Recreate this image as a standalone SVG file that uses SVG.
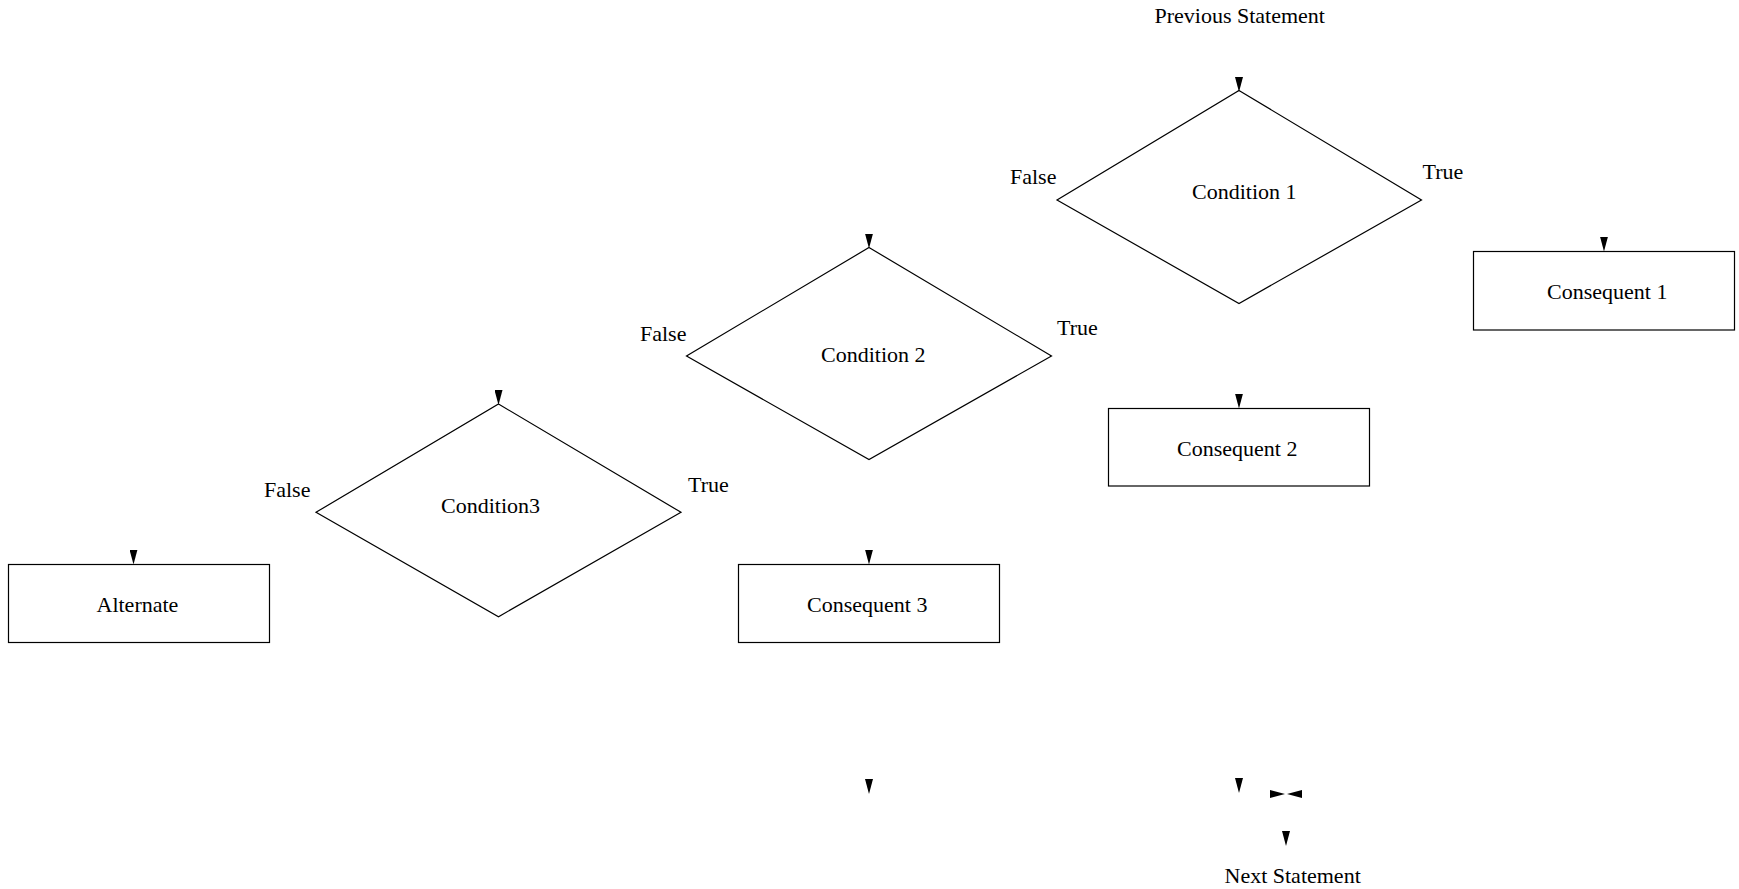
<svg xmlns="http://www.w3.org/2000/svg" width="1739" height="889" viewBox="0 0 1739 889">
<style>
  .shape { fill: #ffffff; stroke: #000000; stroke-width: 1.2; }
  text { font-family: "Liberation Serif", "Times New Roman", serif; font-size: 22px; fill: #000000; }
  .edge { fill: none; stroke: none; marker-end: url(#arrow); }
</style>
<defs>
  <marker id="arrow" viewBox="0 0 15 8" refX="15" refY="4" markerWidth="15" markerHeight="8" markerUnits="userSpaceOnUse" orient="auto">
    <path d="M0,0 L15,4 L0,8 z" fill="#000000"/>
  </marker>
</defs>
<rect x="0" y="0" width="1739" height="889" fill="#ffffff"/>

<g id="previous-statement">
  <text x="1154.5" y="23">Previous Statement</text>
</g>

<g id="condition1">
  <polygon class="shape" points="1239,90.5 1421.5,200 1239,303.5 1057,200"/>
  <text x="1192" y="199">Condition 1</text>
</g>
<g id="condition2">
  <polygon class="shape" points="869,247.5 1051.5,356 869,459.5 686.5,356"/>
  <text x="821" y="362">Condition 2</text>
</g>
<g id="condition3">
  <polygon class="shape" points="498.5,404 681,512.3 498.5,616.7 316,512.3"/>
  <text x="441" y="513">Condition3</text>
</g>

<g id="consequent1">
  <rect class="shape" x="1473.5" y="251.5" width="261" height="78.5"/>
  <text x="1547" y="299">Consequent 1</text>
</g>
<g id="consequent2">
  <rect class="shape" x="1108.5" y="408.5" width="261" height="77.5"/>
  <text x="1177" y="456">Consequent 2</text>
</g>
<g id="consequent3">
  <rect class="shape" x="738.5" y="564.5" width="261" height="78"/>
  <text x="807" y="612">Consequent 3</text>
</g>
<g id="alternate">
  <rect class="shape" x="8.5" y="564.5" width="261" height="78"/>
  <text x="96.5" y="612">Alternate</text>
</g>

<g id="next-statement">
  <text x="1224.5" y="883">Next Statement</text>
</g>

<g id="connectors">
  <path class="edge" d="M1239,30 L1239,92"/>
  <path class="edge" d="M1421.5,200 L1604,200 L1604,251.5"/>
  <path class="edge" d="M1057,200 L869,200 L869,248.5"/>
  <path class="edge" d="M1051.5,356 L1239,356 L1239,408.5"/>
  <path class="edge" d="M686.5,356 L498.5,356 L498.5,405"/>
  <path class="edge" d="M681,512.3 L869,512.3 L869,564.5"/>
  <path class="edge" d="M316,512.3 L133.5,512.3 L133.5,564.5"/>
  <path class="edge" d="M869,642.5 L869,794"/>
  <path class="edge" d="M1239,486 L1239,793"/>
  <path class="edge" d="M1604,330 L1604,794 L1287,794"/>
  <path class="edge" d="M133.5,642.5 L133.5,700 L1200,794 L1285,794"/>
  <path class="edge" d="M1286,794 L1286,846"/>
  <text x="1010" y="184">False</text>
  <text x="1422.5" y="179">True</text>
  <text x="640" y="341">False</text>
  <text x="1057" y="335">True</text>
  <text x="264" y="497">False</text>
  <text x="688" y="492">True</text>
</g>
</svg>
